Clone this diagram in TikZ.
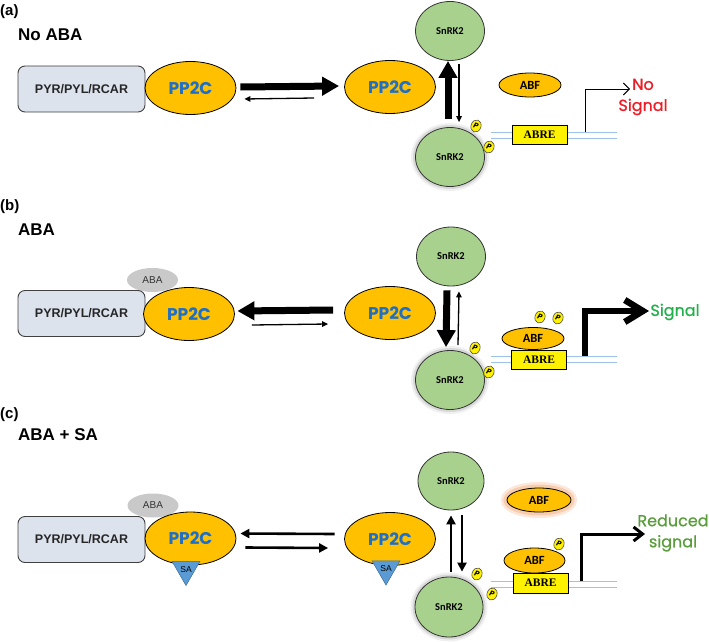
\documentclass[tikz,border=0pt]{standalone}
\usepackage{fontspec}
\setmainfont{Liberation Sans}
\newfontfamily\carlito{Carlito}
\newfontfamily\timesbf{Liberation Serif}
\newfontfamily\popp{Poppins}
\newfontfamily\popm{Poppins}[FakeBold=0.8]
\usetikzlibrary{shapes.geometric,arrows.meta}

\definecolor{pyrfill}{HTML}{DDE3ED}
\definecolor{ppfill}{HTML}{FFC000}
\definecolor{ppblue}{HTML}{1F6FC6}
\definecolor{snfill}{HTML}{A9D18E}
\definecolor{abrefill}{HTML}{FFF200}
\definecolor{dnablue}{HTML}{9DC3E6}
\definecolor{abagrey}{HTML}{C9C9C9}
\definecolor{sablue}{HTML}{5B9BD5}
\definecolor{nored}{HTML}{EE1C24}
\definecolor{siggreen}{HTML}{22B04B}
\definecolor{lowgreen}{HTML}{5A9E3C}
\definecolor{glow}{HTML}{F4B183}

\tikzstyle{receptor} = [draw=black!75, fill=pyrfill, rounded corners=7pt, minimum width=127pt, minimum height=46pt, inner sep=0, line width=0.9pt, text=black!85, font={\bfseries\fontsize{12.5}{14}\selectfont}]
\tikzstyle{phos} = [ellipse, draw=black, fill=ppfill, minimum width=91pt, minimum height=53pt, inner sep=0, line width=0.8pt, text=ppblue, font={\popp\bfseries\fontsize{17}{18}\selectfont}]
\tikzstyle{kinase} = [ellipse, draw=black!80, fill=snfill, minimum width=69pt, minimum height=59pt, inner sep=0, line width=0.8pt, font={\carlito\bfseries\fontsize{10.5}{12}\selectfont}]
\tikzstyle{kinhalo} = [kinase, preaction={draw=black, line width=9pt, opacity=0.06}, preaction={draw=black, line width=5pt, opacity=0.1}]
\tikzstyle{factor} = [ellipse, draw=black, fill=ppfill, minimum width=62pt, minimum height=24pt, inner sep=0, line width=0.8pt, font={\carlito\bfseries\fontsize{12.5}{13}\selectfont}]
\tikzstyle{factorglow} = [factor, preaction={draw=glow, line width=12pt, opacity=0.3}, preaction={draw=glow, line width=7pt, opacity=0.5}]
\tikzstyle{element} = [draw=black, fill=abrefill, minimum width=55pt, minimum height=19pt, inner sep=0, line width=0.9pt, font={\timesbf\bfseries\fontsize{11.5}{12}\selectfont}]
\tikzstyle{pdot} = [ellipse, draw=black!70, fill=yellow, minimum width=10pt, minimum height=12.5pt, inner sep=0, line width=0.6pt, rotate=-20, font={\popp\bfseries\itshape\fontsize{7.5}{7.5}\selectfont}]
\tikzstyle{hormone} = [ellipse, fill=abagrey, minimum width=51pt, minimum height=24pt, inner sep=0, text=black!80, font={\fontsize{10}{11}\selectfont}]
\tikzstyle{salicyl} = [regular polygon, regular polygon sides=3, shape border rotate=180, draw=sablue!70!black, fill=sablue, minimum size=28pt, inner sep=0, line width=0.5pt, font={\fontsize{8.5}{9}\selectfont}]
\tikzstyle{panel} = [anchor=west, inner sep=0, font={\bfseries\fontsize{15}{16}\selectfont}]
\tikzstyle{cond} = [anchor=west, inner sep=0, font={\bfseries\fontsize{17}{18}\selectfont}]
\tikzstyle{outcome} = [align=center, inner sep=0, font={\popm\fontsize{16}{21}\selectfont}]
\tikzstyle{dna} = [draw=dnablue, line width=0.9pt]
\tikzstyle{fatarr} = [line width=7pt, -{Triangle[length=17pt,width=18pt]}]
\tikzstyle{thinarr} = [line width=1.3pt, -{Triangle[length=6pt,width=5.5pt]}]
\tikzstyle{midarr} = [line width=2.6pt, -{Triangle[length=9pt,width=9pt]}]
\tikzstyle{sigthin} = [line width=1pt, -{Straight Barb[length=6pt,width=12pt]}]
\tikzstyle{sigfat} = [line width=6.5pt, line join=miter, -{Straight Barb[length=18pt,width=22pt]}]
\tikzstyle{sigmid} = [line width=3pt, line join=miter, -{Straight Barb[length=9pt,width=14pt]}]

\begin{document}
\begin{tikzpicture}[x=1pt,y=-1pt]
\useasboundingbox (0,0) rectangle (709,642);

\node [panel] (la) at (0,12) {(a)};
\node [cond] (ca) at (18,35) {No ABA};
\node [receptor] (pyrA) at (81.5,89) {PYR/PYL/RCAR};
\node [phos] (ppA1) at (190.5,88) {PP2C};
\node [phos] (ppA2) at (390,87) {PP2C};
\node [kinase] (snA1) at (450,31) {SnRK2};
\node [kinhalo] (snA2) at (450,157) {SnRK2};
\node [pdot] (pA1) at (476,126) {P};
\node [pdot] (pA2) at (489,147) {P};
\node [factor] (abfA) at (530,85) {ABF};
\draw [dna] (491,132) -- (617,132);
\draw [dna] (491,138) -- (617,138);
\node [element] (abreA) at (539.5,134.5) {ABRE};
\coordinate (tA) at (585,132);
\coordinate (hA) at (630,89);
\node [outcome, text=nored] (sigA) at (643,97) {No\\Signal};
\draw [fatarr] ([xshift=4pt,yshift=1pt]ppA1.east) -- ([xshift=-5pt,yshift=1pt]ppA2.west);
\draw [thinarr] ([xshift=-30pt,yshift=-11pt]ppA2.west) -- ([xshift=8pt,yshift=-11pt]ppA1.east);
\draw [fatarr] ([xshift=-2pt,yshift=8pt]snA2.north) -- ([xshift=-2pt]snA1.south);
\draw [thinarr] ([xshift=9pt,yshift=-3pt]snA1.south) -- ([xshift=9pt,yshift=5pt]snA2.north);
\draw [sigthin] (tA) |- (hA);

\node [panel] (lb) at (0,207) {(b)};
\node [cond] (cb) at (18,230) {ABA};
\node [hormone] (abaB) at (152.5,280) {ABA};
\node [receptor] (pyrB) at (81.5,313.5) {PYR/PYL/RCAR};
\node [phos] (ppB1) at (189,314) {PP2C};
\node [phos] (ppB2) at (390,313) {PP2C};
\node [kinase] (snB1) at (451,256.5) {SnRK2};
\node [kinhalo] (snB2) at (450,380) {SnRK2};
\node [pdot] (pB1) at (475,348) {P};
\node [pdot] (pB2) at (489,372) {P};
\draw [dna] (491,356) -- (617,356);
\draw [dna] (491,362) -- (617,362);
\node [factor, minimum height=22pt] (abfB) at (533,338.5) {ABF};
\node [pdot] (pB3) at (540,317) {P};
\node [pdot] (pB4) at (558,318) {P};
\node [element] (abreB) at (539,359.5) {ABRE};
\coordinate (tB) at (585,356);
\coordinate (hB) at (649,311);
\node [outcome, text=siggreen] (sigB) at (675,312) {Signal};
\draw [fatarr] ([xshift=-11pt,yshift=3pt]ppB2.west) -- ([xshift=2.5pt,yshift=3pt]ppB1.east);
\draw [thinarr] ([xshift=17pt,yshift=-11pt]ppB1.east) -- ([xshift=-16pt,yshift=-11pt]ppB2.west);
\draw [fatarr] ([xshift=-4pt,yshift=-4pt]snB1.south) -- ([xshift=-4pt,yshift=3pt]snB2.north);
\draw [thinarr] ([xshift=8pt,yshift=5pt]snB2.north) -- ([xshift=8pt,yshift=-5pt]snB1.south);
\draw [sigfat] (tB) |- (hB);

\node [panel] (lc) at (0,415) {(c)};
\node [cond] (cc) at (18,435) {ABA + SA};
\node [hormone] (abaC) at (153,505.5) {ABA};
\node [receptor] (pyrC) at (81.5,539.5) {PYR/PYL/RCAR};
\node [phos] (ppC1) at (190.5,538.5) {PP2C};
\node [phos] (ppC2) at (390,539) {PP2C};
\node [salicyl] (saC1) at (186,569.5) {SA};
\node [salicyl] (saC2) at (386,569) {SA};
\node [kinase, minimum width=66pt, minimum height=58pt] (snC1) at (451,481) {SnRK2};
\node [kinhalo, minimum width=68pt, minimum height=60pt] (snC2) at (449,607) {SnRK2};
\node [pdot] (pC1) at (477,574) {P};
\node [pdot] (pC2) at (492,594) {P};
\node [factorglow, minimum width=64pt] (abfC1) at (539,500) {ABF};
\draw [dna] (491,581) -- (617,581);
\draw [dna] (491,587) -- (617,587);
\node [factor, minimum width=61pt, minimum height=25pt] (abfC2) at (534.5,560.5) {ABF};
\node [pdot] (pC3) at (559,544) {P};
\node [element, minimum height=20pt] (abreC) at (540.5,583) {ABRE};
\coordinate (tC) at (581,581);
\coordinate (hC) at (645,534);
\node [outcome, text=lowgreen] (sigC) at (673,533) {Reduced\\signal};
\draw [midarr] ([xshift=-9.5pt,yshift=5pt]ppC2.west) -- ([xshift=4pt,yshift=5pt]ppC1.east);
\draw [midarr] ([xshift=9pt,yshift=-9pt]ppC1.east) -- ([xshift=-16pt,yshift=-9pt]ppC2.west);
\draw [midarr] ([xshift=2pt,yshift=5pt]snC2.north) -- ([xshift=0pt,yshift=-5pt]snC1.south);
\draw [midarr] ([xshift=11pt,yshift=-5pt]snC1.south) -- ([xshift=13pt,yshift=5pt]snC2.north);
\draw [sigmid] (tC) |- (hC);
\end{tikzpicture}
\end{document}
